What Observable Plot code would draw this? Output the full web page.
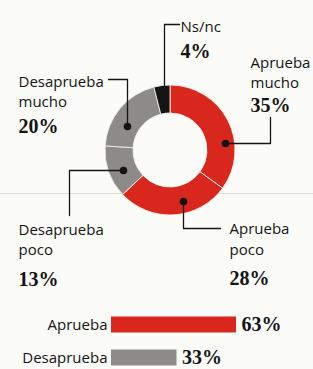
<!DOCTYPE html>
<html>
<head>
<meta charset="utf-8">
<script src="https://cdn.jsdelivr.net/npm/d3@7"></script>
<script src="https://cdn.jsdelivr.net/npm/@observablehq/plot@0.6"></script>
<style>
  html, body { margin: 0; padding: 0; background: #fbfbf8; }
  #chart { width: 313px; height: 369px; overflow: hidden; }
  #chart svg { display: block; background: transparent; }
</style>
</head>
<body>
<div id="chart"></div>
<script>
// ---- data ----
const categories = ["Aprueba mucho", "Aprueba poco", "Desaprueba poco", "Desaprueba mucho", "Ns/nc"];
const values = [35, 28, 13, 20, 4];
const summaryCategories = ["Aprueba", "Desaprueba"];
const summaryValues = [63, 33];

// ---- styles ----
const RED = "#d9271d", GRAY = "#8d8b89", BLACK = "#141414", INK = "#141414";
const SANS = "'Open Sans', 'Noto Sans', sans-serif";
const SERIF = "'Liberation Serif', 'DejaVu Serif', serif";
const sliceColor = {"Aprueba mucho": RED, "Aprueba poco": RED, "Desaprueba poco": GRAY, "Desaprueba mucho": GRAY, "Ns/nc": BLACK};
const summaryColor = {"Aprueba": RED, "Desaprueba": GRAY};

// ---- layout (pixel space of the donut panel) ----
const center = {x: 170, y: 150}, rOuter = 65, rInner = 37;
const nameLines = [
  {cat: "Ns/nc",            line: "Ns/nc",      x: 180, y: 27},
  {cat: "Aprueba mucho",    line: "Aprueba",    x: 250, y: 63},
  {cat: "Aprueba mucho",    line: "mucho",      x: 250, y: 82.5},
  {cat: "Desaprueba mucho", line: "Desaprueba", x: 18,  y: 82},
  {cat: "Desaprueba mucho", line: "mucho",      x: 18,  y: 101.5},
  {cat: "Desaprueba poco",  line: "Desaprueba", x: 18,  y: 230},
  {cat: "Desaprueba poco",  line: "poco",       x: 18,  y: 249.5},
  {cat: "Aprueba poco",     line: "Aprueba",    x: 229, y: 229},
  {cat: "Aprueba poco",     line: "poco",       x: 229, y: 249.5}
];
const pctLabels = [
  {cat: "Ns/nc",            x: 180, y: 51},
  {cat: "Aprueba mucho",    x: 250, y: 105},
  {cat: "Desaprueba mucho", x: 18,  y: 126},
  {cat: "Desaprueba poco",  x: 18,  y: 279},
  {cat: "Aprueba poco",     x: 229, y: 278}
];
const leaders = [
  {id: "Ns/nc",            pts: [[179, 24], [164, 24], [164, 95]]},
  {id: "Aprueba mucho",    pts: [[225, 143], [270, 143], [270, 117]]},
  {id: "Desaprueba mucho", pts: [[108, 79], [127, 79], [127, 126]]},
  {id: "Desaprueba poco",  pts: [[123, 170], [69, 170], [69, 215]]},
  {id: "Aprueba poco",     pts: [[183, 201], [183, 228], [220, 228]]}
];
const dotsAt = [
  {x: 225, y: 143}, {x: 127, y: 126}, {x: 123, y: 170}, {x: 183, y: 201}
];

const pctOf = c => values[categories.indexOf(c)] + "%";
const leaderPts = leaders.flatMap(l => l.pts.map(([x, y]) => ({id: l.id, x, y})));

const slices = categories.map((c, i) => ({cat: c, value: values[i]}));

function donutMark(index, scales, vals, dimensions, context) {
  const pie = d3.pie().sort(null).value(d => d.value).startAngle(0).endAngle(2 * Math.PI)(slices);
  const arc = d3.arc().innerRadius(rInner).outerRadius(rOuter);
  const cx = scales.x ? scales.x(center.x) : center.x;
  const cy = scales.y ? scales.y(center.y) : center.y;
  const g = d3.create("svg:g").attr("transform", `translate(${cx},${cy})`);
  g.selectAll("path").data(pie).join("path")
    .attr("d", arc)
    .attr("fill", d => sliceColor[d.data.cat])
    .attr("stroke", "#f4f1e8")
    .attr("stroke-width", 0.9);
  return g.node();
}

const donut = Plot.plot({
  width: 313, height: 300, margin: 0,
  x: {domain: [0, 313], range: [0, 313], axis: null},
  y: {domain: [0, 300], range: [0, 300], axis: null},
  style: {background: "transparent", overflow: "visible"},
  marks: [
    Plot.ruleY([193], {stroke: "#d4d4d0", strokeWidth: 0.8}),
    donutMark,
    Plot.line(leaderPts, {x: "x", y: "y", z: "id", stroke: INK, strokeWidth: 1.3, curve: "linear"}),
    Plot.dot(dotsAt, {x: "x", y: "y", r: 3.8, fill: BLACK, stroke: "none"}),
    Plot.text(nameLines, {x: "x", y: "y", text: "line", textAnchor: "start",
      fontFamily: SANS, fontSize: 15, fill: INK}),
    Plot.text(pctLabels, {x: "x", y: "y", text: d => pctOf(d.cat), textAnchor: "start",
      fontFamily: SERIF, fontWeight: "bold", fontSize: 20, fill: INK})
  ]
});

const summary = summaryCategories.map((c, i) => ({cat: c, value: summaryValues[i]}));
const bars = Plot.plot({
  width: 313, height: 69, margin: 0,
  x: {domain: [0, 63], range: [111, 236], axis: null},
  y: {domain: summaryCategories, range: [7.25, 74.25], padding: 0, axis: null},
  style: {background: "transparent", overflow: "visible"},
  marks: [
    Plot.barX(summary, {x: "value", y: "cat", fill: d => summaryColor[d.cat], insetTop: 8.5, insetBottom: 8.5}),
    Plot.text(summary, {x: 0, y: "cat", text: "cat", textAnchor: "end", dx: -4,
      fontFamily: SANS, fontSize: 15, fill: INK}),
    Plot.text(summary, {x: "value", y: "cat", text: d => d.value + "%", textAnchor: "start", dx: 5,
      fontFamily: SERIF, fontWeight: "bold", fontSize: 20, fill: INK})
  ]
});

const root = document.getElementById("chart");
root.append(donut, bars);
</script>
</body>
</html>
